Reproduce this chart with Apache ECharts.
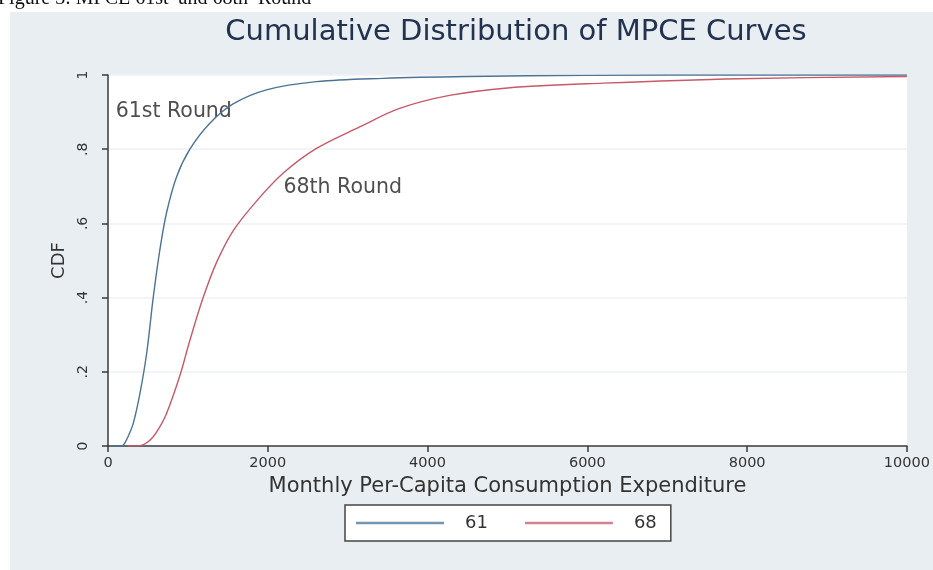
<!DOCTYPE html>
<html>
<head>
<meta charset="utf-8">
<script src="https://cdn.jsdelivr.net/npm/echarts@6/dist/echarts.min.js"></script>
<style>
  html, body { margin: 0; padding: 0; background: #ffffff; }
  #chart { width: 933px; height: 570px; }
</style>
</head>
<body>
<div id="chart"></div>
<script>
// MPCE values (x) and cumulative shares (y) for the 61st round
const mpce61 = [30, 150, 191, 250, 316, 400, 484, 566, 650, 734, 859, 1025, 1275, 1566, 1984, 2609, 3441, 4500, 6000, 8000, 10000];
const cdf61  = [0, 0, 0.002, 0.025, 0.061, 0.142, 0.25, 0.4, 0.53, 0.63, 0.726, 0.8, 0.87, 0.922, 0.96, 0.982, 0.991, 0.996, 0.999, 1, 1];

// MPCE values (x) and cumulative shares (y) for the 68th round
const mpce68 = [250, 400, 480, 566, 650, 734, 900, 1025, 1191, 1359, 1566, 1859, 2191, 2609, 3150, 3650, 4275, 5000, 6200, 7900, 10000];
const cdf68  = [0, 0.001, 0.008, 0.025, 0.052, 0.088, 0.19, 0.285, 0.4, 0.495, 0.58, 0.66, 0.735, 0.802, 0.86, 0.91, 0.945, 0.965, 0.978, 0.99, 0.996];

const xTicks = [0, 2000, 4000, 6000, 8000, 10000];
const yTicks = [0, 0.2, 0.4, 0.6, 0.8, 1];
const seriesNames = ['61', '68'];
const roundLabels = ['61st Round', '68th Round'];
const roundLabelAt = [[90, 0.9], [2190, 0.695]];

const zip = (xs, ys) => xs.map((x, i) => [x, ys[i]]);

const chart = echarts.init(document.getElementById('chart'), null, { renderer: 'canvas' });

const axisColor = '#3a3a3a';
const font = '"DejaVu Sans", Verdana, sans-serif';

chart.setOption({
  backgroundColor: '#ffffff',
  animation: false,
  graphic: [
    {
      type: 'rect', z: -10, silent: true,
      shape: { x: 10, y: 12, width: 923, height: 558 },
      style: { fill: '#e9eef2' }
    },
    {
      type: 'text', left: -2, top: -11, silent: true,
      style: { text: 'Figure 3: MPCE 61st  and 68th  Round', font: '20px "Liberation Serif", "Times New Roman", serif', fill: '#111' }
    }
  ],
  title: {
    text: 'Cumulative Distribution of MPCE Curves',
    left: 511, top: 13, textAlign: 'center',
    textStyle: { fontFamily: font, fontSize: 29, fontWeight: 'normal', color: '#22324f' }
  },
  grid: {
    left: 108, right: 25, top: 75, bottom: 124,
    show: true, backgroundColor: '#ffffff', borderWidth: 0
  },
  legend: {
    data: seriesNames,
    left: 345, top: 505,
    orient: 'horizontal',
    icon: 'rect',
    padding: [9, 14, 9, 11],
    itemGap: 37,
    itemWidth: 88, itemHeight: 2.5,
    backgroundColor: '#ffffff',
    borderColor: '#444', borderWidth: 1.5, borderRadius: 0,
    textStyle: { fontFamily: font, fontSize: 18, color: '#333', padding: [0, 0, 0, 16] }
  },
  xAxis: {
    type: 'value', min: xTicks[0], max: xTicks[xTicks.length - 1], interval: 2000,
    name: 'Monthly Per-Capita Consumption Expenditure',
    nameLocation: 'middle', nameGap: 26,
    nameTextStyle: { fontFamily: font, fontSize: 21, color: '#333' },
    axisLine: { show: true, onZero: false, lineStyle: { color: axisColor, width: 1.5 } },
    axisTick: { show: true, length: 6, lineStyle: { color: axisColor, width: 1.5 } },
    axisLabel: { margin: 10, fontFamily: font, fontSize: 14.5, color: '#333', formatter: v => String(v) },
    splitLine: { show: false }
  },
  yAxis: {
    type: 'value', min: yTicks[0], max: yTicks[yTicks.length - 1], interval: 0.2,
    name: 'CDF',
    nameLocation: 'middle', nameGap: 39, nameRotate: 90,
    nameTextStyle: { fontFamily: font, fontSize: 18, color: '#333' },
    axisLine: { show: true, onZero: false, lineStyle: { color: axisColor, width: 1.5 } },
    axisTick: { show: true, length: 6, lineStyle: { color: axisColor, width: 1.5 } },
    axisLabel: {
      rotate: 90, margin: 18, fontFamily: font, fontSize: 14, color: '#333',
      formatter: v => (v === 0 ? '0' : v === 1 ? '1' : String(+v.toFixed(1)).replace(/^0\./, '.'))
    },
    splitLine: { show: true, lineStyle: { color: '#eef1f4', width: 1.5 } }
  },
  series: [
    {
      name: seriesNames[0], type: 'line', symbol: 'none', smooth: 0.35,
      data: zip(mpce61, cdf61),
      lineStyle: { color: '#4c7394', width: 1.4 },
      itemStyle: { color: '#7596b0' }
    },
    {
      name: seriesNames[1], type: 'line', symbol: 'none', smooth: 0.35,
      data: zip(mpce68, cdf68),
      lineStyle: { color: '#c65a68', width: 1.4 },
      itemStyle: { color: '#d2838e' }
    },
    {
      // round annotations placed in data coordinates
      name: 'labels', type: 'scatter', symbolSize: 1, silent: true,
      itemStyle: { color: 'rgba(0,0,0,0)' },
      data: roundLabelAt.map((c, i) => ({ value: c, name: roundLabels[i] })),
      label: {
        show: true, position: 'right', distance: 0, formatter: p => p.name,
        fontFamily: font, fontSize: 20.5, color: '#222'
      }
    }
  ]
});
</script>
</body>
</html>
